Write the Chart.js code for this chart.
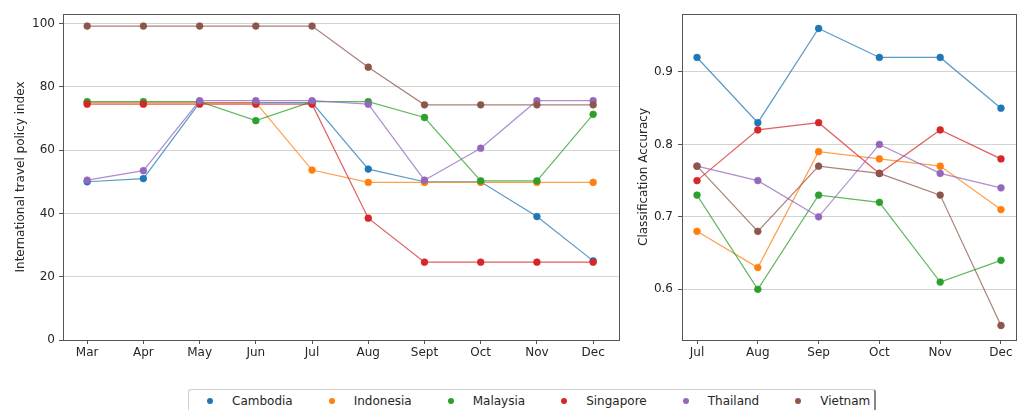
<!DOCTYPE html>
<html>
<head>
<meta charset="utf-8">
<script src="https://cdn.jsdelivr.net/npm/chart.js@4"></script>
<style>
  body { margin: 0; background: #fff; width: 1021px; height: 410px; overflow: hidden; position: relative; font-family: "DejaVu Sans", sans-serif; }
  canvas { position: absolute; top: 0; }
  #policy { left: 0; }
  #accuracy { left: 625px; }
  #legend { position: absolute; left: 188px; top: 389px; width: 688px; height: 30px; border: 1px solid #d0d0d0; border-right: 2px solid #888; border-radius: 3px; box-sizing: border-box; display: flex; align-items: flex-start; padding: 4px 0 0 18px; font-size: 12px; color: #262626; }
  .item { display: flex; align-items: center; margin-right: 36px; }
  .dot { width: 6px; height: 6px; border-radius: 50%; margin-right: 19px; }
</style>
</head>
<body>
<canvas id="policy" width="625" height="375"></canvas>
<canvas id="accuracy" width="396" height="375"></canvas>
<div id="legend"></div>
<script>
const countries = ["Cambodia", "Indonesia", "Malaysia", "Singapore", "Thailand", "Vietnam"];
const colors = ["#1f77b4", "#ff7f0e", "#2ca02c", "#d62728", "#9467bd", "#8c564b"];

// left panel: policy index, Mar - Dec
const policyMonths = ["Mar", "Apr", "May", "Jun", "Jul", "Aug", "Sept", "Oct", "Nov", "Dec"];
const cambodiaPolicy  = [50, 51, 75, 75, 75, 54, 50, 50, 39, 25];
const indonesiaPolicy = [75, 75, 75, 75, 53.7, 49.8, 49.8, 49.8, 49.8, 49.8];
const malaysiaPolicy  = [75.3, 75.3, 75.3, 69.3, 75.3, 75.3, 70.3, 50.3, 50.3, 71.3];
const singaporePolicy = [74.5, 74.5, 74.5, 74.5, 74.5, 38.5, 24.6, 24.6, 24.6, 24.6];
const thailandPolicy  = [50.5, 53.5, 75.6, 75.6, 75.6, 74.5, 50.5, 60.6, 75.6, 75.6];
const vietnamPolicy   = [99.2, 99.2, 99.2, 99.2, 99.2, 86.2, 74.3, 74.3, 74.3, 74.3];

// right panel: classification accuracy, Jul - Dec
const accuracyMonths = ["Jul", "Aug", "Sep", "Oct", "Nov", "Dec"];
const cambodiaAcc  = [0.92, 0.83, 0.96, 0.92, 0.92, 0.85];
const indonesiaAcc = [0.68, 0.63, 0.79, 0.78, 0.77, 0.71];
const malaysiaAcc  = [0.73, 0.60, 0.73, 0.72, 0.61, 0.64];
const singaporeAcc = [0.75, 0.82, 0.83, 0.76, 0.82, 0.78];
const thailandAcc  = [0.77, 0.75, 0.70, 0.80, 0.76, 0.74];
const vietnamAcc   = [0.77, 0.68, 0.77, 0.76, 0.73, 0.55];

const policySeries = [cambodiaPolicy, indonesiaPolicy, malaysiaPolicy, singaporePolicy, thailandPolicy, vietnamPolicy];
const accuracySeries = [cambodiaAcc, indonesiaAcc, malaysiaAcc, singaporeAcc, thailandAcc, vietnamAcc];

const textColor = "#262626";
const frameColor = "#555";
const font = { family: "DejaVu Sans", size: 12 };

const framePlugin = {
  id: "frame",
  afterDraw(chart) {
    const a = chart.chartArea;
    const c = chart.ctx;
    c.save();
    c.strokeStyle = frameColor;
    c.lineWidth = 1;
    c.strokeRect(Math.round(a.left) + 0.5, Math.round(a.top) + 0.5, Math.round(a.right - a.left), Math.round(a.bottom - a.top));
    c.restore();
  }
};

function fade(hex, alpha) {
  const n = parseInt(hex.slice(1), 16);
  return `rgba(${n >> 16}, ${(n >> 8) & 255}, ${n & 255}, ${alpha})`;
}

function makeDatasets(series) {
  return series.map((vals, i) => ({
    label: countries[i],
    data: vals.map((v, j) => ({ x: j, y: v })),
    borderColor: fade(colors[i], 0.75),
    backgroundColor: colors[i],
    pointBackgroundColor: colors[i],
    pointBorderColor: fade(colors[i], 0.6),
    pointBorderWidth: 1,
    borderWidth: 1.2,
    pointRadius: 3.4,
    tension: 0,
    order: series.length - i,
  }));
}

function drawChart(id, labels, series, opts) {
  const ctx = document.getElementById(id);
  return new Chart(ctx, {
    type: "line",
    data: { datasets: makeDatasets(series) },
    plugins: [framePlugin],
    options: {
      responsive: false,
      devicePixelRatio: 1,
      animation: false,
      layout: { padding: { top: 14, right: opts.padRight, left: 0, bottom: 0 } },
      plugins: { legend: { display: false }, tooltip: { enabled: false } },
      scales: {
        x: {
          type: "linear",
          min: opts.xMin,
          max: opts.xMax,
          border: { display: false },
          grid: { drawOnChartArea: false, drawTicks: true, tickLength: 4, tickColor: frameColor },
          ticks: {
            stepSize: 1,
            includeBounds: false,
            autoSkip: false,
            maxRotation: 0,
            padding: 2,
            color: textColor,
            font: font,
            callback: (v) => labels[v],
          },
          afterFit: (scale) => { scale.height = 35; },
        },
        y: {
          min: opts.yMin,
          max: opts.yMax,
          border: { display: false },
          grid: { color: "#d3d3d3", lineWidth: 1, drawTicks: true, tickLength: 4, tickColor: frameColor },
          ticks: {
            stepSize: opts.yStep,
            includeBounds: false,
            padding: opts.tickPad,
            color: textColor,
            font: font,
            callback: opts.yFormat,
          },
          title: {
            display: true,
            text: opts.yTitle,
            color: textColor,
            font: font,
            padding: { top: opts.titlePad, bottom: 0 },
          },
          afterFit: (scale) => { scale.width = opts.yWidth; },
        },
      },
    },
  });
}

drawChart("policy", policyMonths, policySeries, {
  padRight: 6, xMin: -0.43, xMax: 9.46,
  yMin: 0, yMax: 103, yStep: 20, tickPad: 4,
  yFormat: (v) => v,
  yTitle: "International travel policy index", titlePad: 14, yWidth: 63,
});

drawChart("accuracy", accuracyMonths, accuracySeries, {
  padRight: 5, xMin: -0.247, xMax: 5.247,
  yMin: 0.53, yMax: 0.98, yStep: 0.1, tickPad: 5,
  yFormat: (v) => v.toFixed(1),
  yTitle: "Classification Accuracy", titlePad: 12, yWidth: 57,
});

// shared legend under both panels
const legend = document.getElementById("legend");
countries.forEach((name, i) => {
  const item = document.createElement("div");
  item.className = "item";
  const dot = document.createElement("span");
  dot.className = "dot";
  dot.style.background = colors[i];
  const label = document.createElement("span");
  label.textContent = name;
  item.appendChild(dot);
  item.appendChild(label);
  legend.appendChild(item);
});
</script>
</body>
</html>
